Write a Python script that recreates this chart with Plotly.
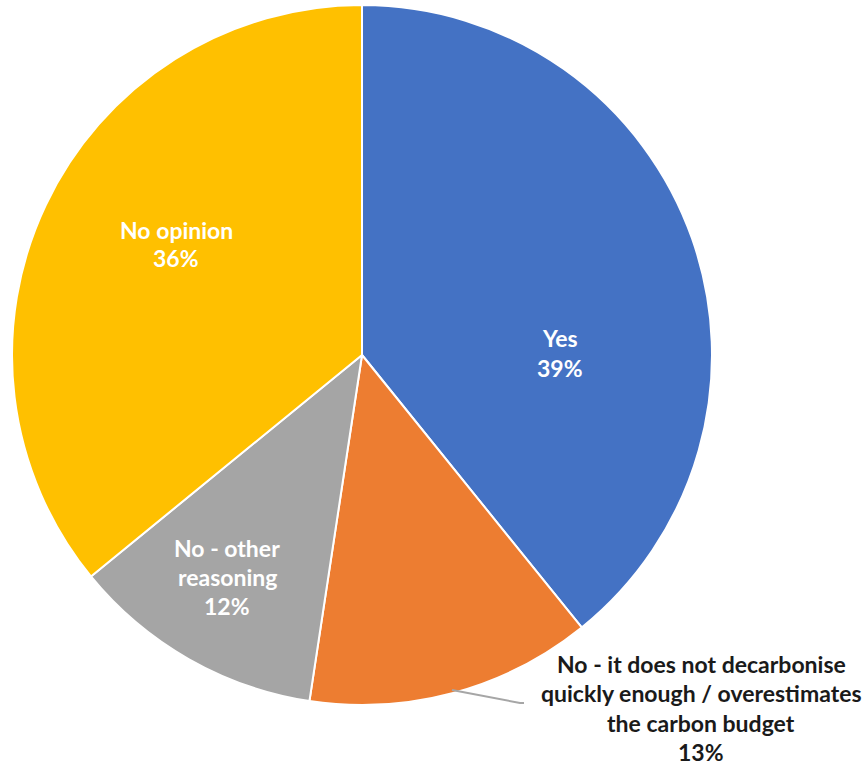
import plotly.graph_objects as go

labels = ["Yes", "No - it does not decarbonise quickly enough / overestimates the carbon budget",
          "No - other reasoning", "No opinion"]
values = [39.2, 13.2, 11.7, 35.9]
colors = ["#4472C4", "#ED7D31", "#A5A5A5", "#FFC000"]
label_lines = [["Yes", "39%"],
               ["No - it does not decarbonise", "quickly enough / overestimates", "the carbon budget", "13%"],
               ["No - other", "reasoning", "12%"],
               ["No opinion", "36%"]]

W, H = 868, 764
FONT = "Lato"

fig = go.Figure(go.Pie(
    labels=labels, values=values, sort=False, direction="clockwise", rotation=0,
    marker=dict(colors=colors, line=dict(color="white", width=2)),
    textinfo="none", hoverinfo="label", showlegend=False,
    domain=dict(x=[12 / W, 712 / W], y=[1 - 705 / H, 1 - 5 / H]),
))

# label placement (pixel centres of first line, line spacing, colour)
placements = [
    (560, 338, 30, "white"),
    (701, 664, 29.3, "#1a1a1a"),
    (227, 548, 29, "white"),
    (176, 230, 28, "white"),
]
for lines, (cx, cy, dy, col) in zip(label_lines, placements):
    for i, t in enumerate(lines):
        fig.add_annotation(x=cx / W, y=1 - (cy + i * dy) / H, xref="paper", yref="paper",
                           text="<b>" + t + "</b>", showarrow=False, borderpad=0,
                           font=dict(family=FONT, size=23, color=col),
                           xanchor="center", yanchor="middle")

# leader line for the orange slice
fig.add_shape(type="path", xref="paper", yref="paper",
              path=f"M {452/W} {1-690/H} L {520/W} {1-703/H} L {524/W} {1-703/H}",
              line=dict(color="#A6A6A6", width=2))

fig.update_layout(width=W, height=H, margin=dict(l=0, r=0, t=0, b=0),
                  paper_bgcolor="white", plot_bgcolor="white")
fig.write_html("out.html", config={"displayModeBar": False},
               post_script="document.body.style.margin='0';document.body.style.overflow='hidden';")
